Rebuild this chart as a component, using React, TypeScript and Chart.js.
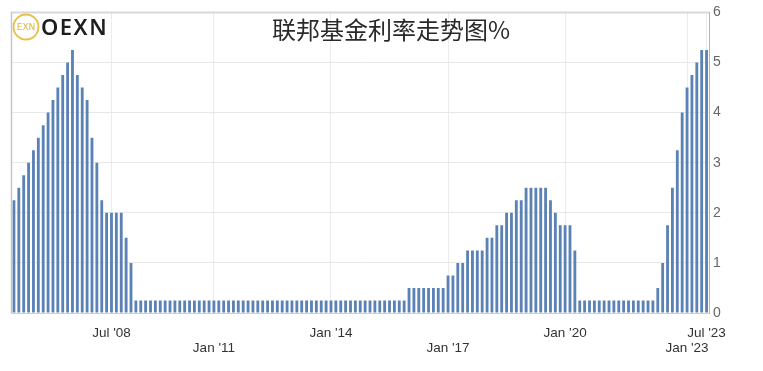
import React, { useEffect, useRef } from "react";
import { Chart, registerables } from "chart.js";

Chart.register(...registerables);

// FOMC decision dates (one bar each)
const categories: string[] = [
  "2004-12", "2005-02", "2005-03", "2005-05", "2005-06", "2005-08", "2005-09", "2005-11", "2005-12",
  "2006-01", "2006-03", "2006-05", "2006-06",
  "2007-09", "2007-10", "2007-12",
  "2008-01-22", "2008-01-30", "2008-03", "2008-04", "2008-06", "2008-08", "2008-09", "2008-10-08", "2008-10-29", "2008-12",
  "2009-01", "2009-03", "2009-04", "2009-06", "2009-08", "2009-09", "2009-11", "2009-12",
  "2010-01", "2010-03", "2010-04", "2010-06", "2010-08", "2010-09", "2010-11", "2010-12",
  "2011-01", "2011-03", "2011-04", "2011-06", "2011-08", "2011-09", "2011-11", "2011-12",
  "2012-01", "2012-03", "2012-04", "2012-06", "2012-08", "2012-09", "2012-10", "2012-12",
  "2013-01", "2013-03", "2013-05", "2013-06", "2013-07", "2013-09", "2013-10", "2013-12",
  "2014-01", "2014-03", "2014-04", "2014-06", "2014-07", "2014-09", "2014-10", "2014-12",
  "2015-01", "2015-03", "2015-04", "2015-06", "2015-07", "2015-09", "2015-10", "2015-12",
  "2016-01", "2016-03", "2016-04", "2016-06", "2016-07", "2016-09", "2016-11", "2016-12",
  "2017-02", "2017-03", "2017-05", "2017-06", "2017-07", "2017-09", "2017-11", "2017-12",
  "2018-01", "2018-03", "2018-05", "2018-06", "2018-08", "2018-09", "2018-11", "2018-12",
  "2019-01", "2019-03", "2019-05", "2019-06", "2019-07", "2019-09", "2019-10", "2019-12",
  "2020-01", "2020-03-03", "2020-03-15", "2020-04", "2020-06", "2020-07", "2020-09", "2020-11", "2020-12",
  "2021-01", "2021-03", "2021-04", "2021-06", "2021-07", "2021-09", "2021-11", "2021-12",
  "2022-01", "2022-03", "2022-05", "2022-06", "2022-07", "2022-09", "2022-11", "2022-12",
  "2023-02", "2023-03", "2023-05", "2023-06",
];

// Federal funds rate (upper bound, %)
const rates: number[] = [
  2.25, 2.5, 2.75, 3.0, 3.25, 3.5, 3.75, 4.0, 4.25,
  4.5, 4.75, 5.0, 5.25,
  4.75, 4.5, 4.25,
  3.5, 3.0, 2.25, 2.0, 2.0, 2.0, 2.0, 1.5, 1.0, 0.25,
  0.25, 0.25, 0.25, 0.25, 0.25, 0.25, 0.25, 0.25,
  0.25, 0.25, 0.25, 0.25, 0.25, 0.25, 0.25, 0.25,
  0.25, 0.25, 0.25, 0.25, 0.25, 0.25, 0.25, 0.25,
  0.25, 0.25, 0.25, 0.25, 0.25, 0.25, 0.25, 0.25,
  0.25, 0.25, 0.25, 0.25, 0.25, 0.25, 0.25, 0.25,
  0.25, 0.25, 0.25, 0.25, 0.25, 0.25, 0.25, 0.25,
  0.25, 0.25, 0.25, 0.25, 0.25, 0.25, 0.25, 0.5,
  0.5, 0.5, 0.5, 0.5, 0.5, 0.5, 0.5, 0.75,
  0.75, 1.0, 1.0, 1.25, 1.25, 1.25, 1.25, 1.5,
  1.5, 1.75, 1.75, 2.0, 2.0, 2.25, 2.25, 2.5,
  2.5, 2.5, 2.5, 2.5, 2.25, 2.0, 1.75, 1.75,
  1.75, 1.25, 0.25, 0.25, 0.25, 0.25, 0.25, 0.25, 0.25,
  0.25, 0.25, 0.25, 0.25, 0.25, 0.25, 0.25, 0.25,
  0.25, 0.5, 1.0, 1.75, 2.5, 3.25, 4.0, 4.5,
  4.75, 5.0, 5.25, 5.25,
];

const tickAt: string[] = ["2008-06", "2010-12", "2013-12", "2016-12", "2019-12", "2022-12", "2023-06"];
const tickText: string[] = ["Jul '08", "Jan '11", "Jan '14", "Jan '17", "Jan '20", "Jan '23", "Jul '23"];
const tickRow: number[] = [1, 2, 1, 2, 1, 2, 1];
const yTicks: number[] = [0, 1, 2, 3, 4, 5, 6];

const titleText = "联邦基金利率走势图%";
const logoText = "OEXN";
const logoBadge = "EXN";

export default function App() {
  const ref = useRef<HTMLCanvasElement>(null);

  useEffect(() => {
    if (!ref.current) return;
    const decor = {
      id: "decor",
      afterDraw(chart: any) {
        const { ctx, chartArea: a } = chart;
        ctx.save();
        // frame top / left
        ctx.strokeStyle = "#d9d9d9";
        ctx.lineWidth = 2;
        ctx.beginPath();
        ctx.moveTo(a.left - 1, a.top);
        ctx.lineTo(a.right, a.top);
        ctx.stroke();
        ctx.strokeStyle = "#c6c6c6";
        ctx.lineWidth = 1.5;
        ctx.beginPath();
        ctx.moveTo(a.left, a.top);
        ctx.lineTo(a.left, a.bottom);
        ctx.stroke();

        // title
        ctx.fillStyle = "#2a2a2a";
        ctx.font = '24px "Noto Sans CJK SC", sans-serif';
        ctx.textAlign = "center";
        ctx.textBaseline = "middle";
        ctx.fillText(titleText, 391, 30);

        // logo badge
        ctx.strokeStyle = "#e8bf45";
        ctx.lineWidth = 1.8;
        ctx.beginPath();
        ctx.arc(26, 27, 12.5, 0, Math.PI * 2);
        ctx.stroke();
        ctx.fillStyle = "#e2b63c";
        ctx.font = '9px "DejaVu Sans", sans-serif';
        ctx.textAlign = "center";
        ctx.textBaseline = "middle";
        ctx.fillText(logoBadge, 26, 27.5);

        // logo text
        ctx.fillStyle = "#1e1e1e";
        ctx.font = '600 22px "Noto Sans", sans-serif';
        ctx.textAlign = "left";
        ctx.textBaseline = "alphabetic";
        (ctx as any).letterSpacing = "1.5px";
        ctx.fillText(logoText, 41, 35);
        ctx.restore();
      },
    };

    const chart = new Chart(ref.current, {
      type: "bar",
      data: {
        labels: categories,
        datasets: [
          {
            data: rates,
            backgroundColor: "#5a82b4",
            borderWidth: 0,
            barPercentage: 0.58,
            categoryPercentage: 1,
          },
        ],
      },
      options: {
        animation: false,
        responsive: true,
        maintainAspectRatio: false,
        layout: { padding: { left: 11.5, top: 9, right: 0, bottom: 0 } },
        plugins: { legend: { display: false }, tooltip: { enabled: false }, title: { display: false } },
        scales: {
          x: {
            type: "category",
            offset: true,
            grid: { display: true, offset: false, drawTicks: false, color: "#ececec", lineWidth: 1 },
            border: { display: true, color: "#c8d2df" },
            ticks: {
              autoSkip: false,
              maxRotation: 0,
              minRotation: 0,
              padding: 12.5,
              color: "#333333",
              font: { family: '"Liberation Sans", Arial, sans-serif', size: 13.5, lineHeight: "15px" },
              callback: (_v: any, i: number) => {
                const k = tickAt.indexOf(categories[i]);
                if (k < 0) return null;
                return tickRow[k] === 1 ? tickText[k] : ["", tickText[k]];
              },
            },
            afterFit: (s: any) => {
              s.height = 58;
            },
          },
          y: {
            position: "right",
            min: 0,
            max: 6,
            afterBuildTicks: (s: any) => {
              s.ticks = yTicks.map((v) => ({ value: v }));
            },
            grid: { color: "#e8e8e8", drawTicks: false },
            border: { display: true, color: "#b4b4b4" },
            ticks: {
              padding: 4,
              color: "#666666",
              font: { family: '"Liberation Sans", Arial, sans-serif', size: 14 },
            },
            afterFit: (s: any) => {
              s.width = 54;
            },
          },
        },
      },
      plugins: [decor],
    } as any);
    return () => chart.destroy();
  }, []);

  return (
    <div style={{ position: "fixed", left: 0, top: 0, width: 763, height: 371, background: "#ffffff" }}>
      <canvas ref={ref} />
    </div>
  );
}
